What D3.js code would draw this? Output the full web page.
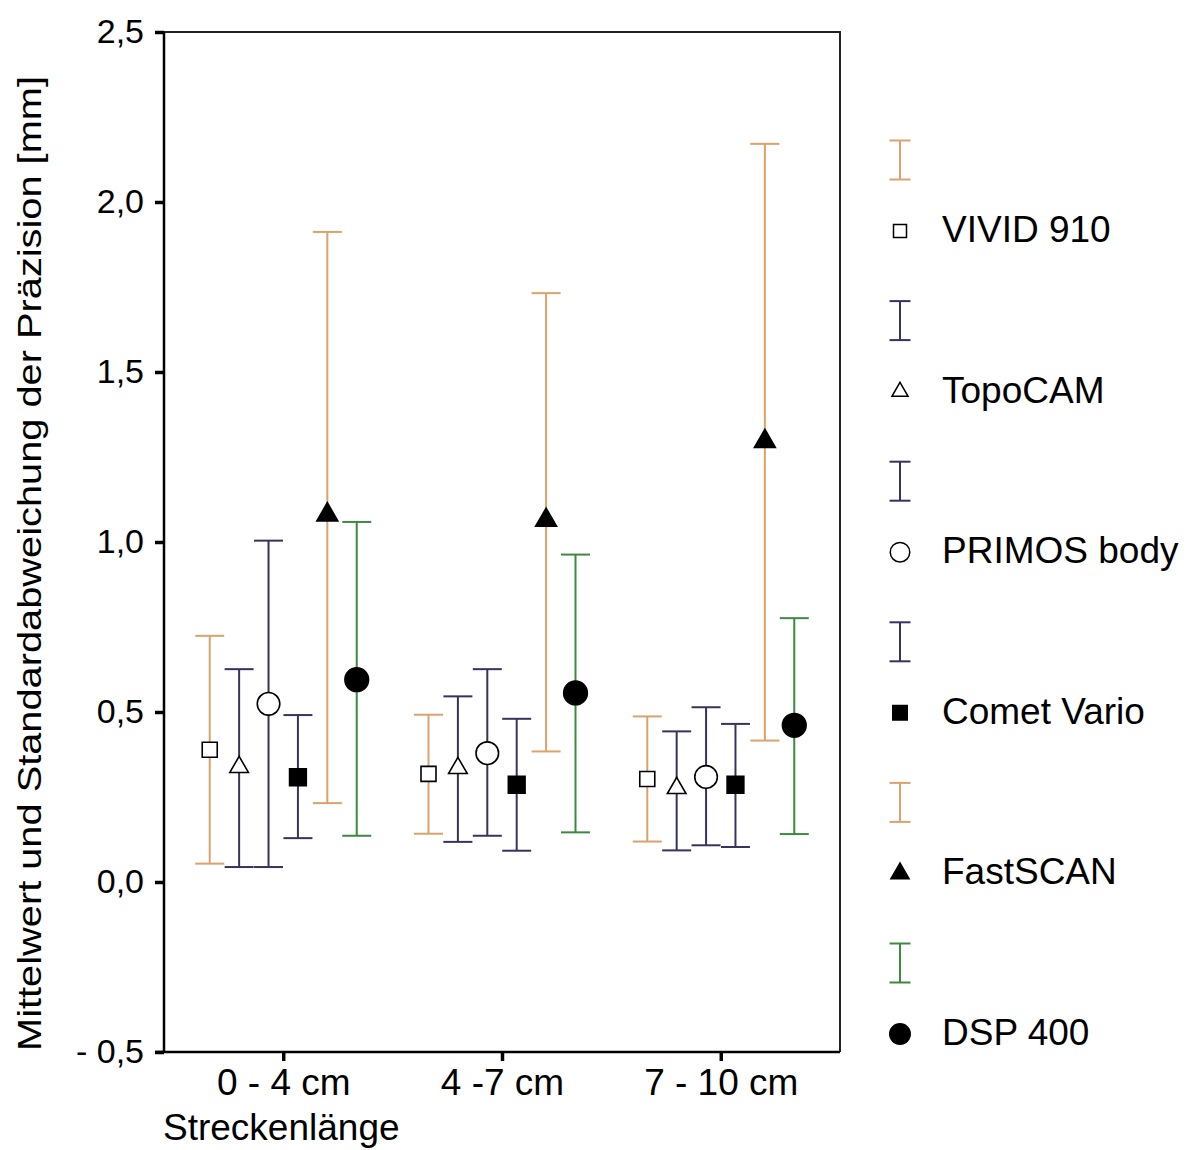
<!DOCTYPE html>
<html>
<head>
<meta charset="utf-8">
<script src="https://cdn.jsdelivr.net/npm/d3@7"></script>
<style>
  html, body { margin: 0; padding: 0; background: #fff; }
  svg { display: block; }
  text { font-family: "Liberation Sans", Arial, sans-serif; fill: #000; }
</style>
</head>
<body>
<svg id="chart" width="1196" height="1150"></svg>
<script>
// ---- Data ----
const categories = ["0 - 4 cm", "4 -7 cm", "7 - 10 cm"];
const seriesNames = ["VIVID 910", "TopoCAM", "PRIMOS body", "Comet Vario", "FastSCAN", "DSP 400"];

const vividMean = [0.389, 0.318, 0.303];
const vividLow  = [0.054, 0.142, 0.119];
const vividHigh = [0.724, 0.492, 0.487];

const topoMean = [0.338, 0.335, 0.276];
const topoLow  = [0.044, 0.118, 0.093];
const topoHigh = [0.626, 0.546, 0.443];

const primosMean = [0.524, 0.379, 0.309];
const primosLow  = [0.044, 0.136, 0.108];
const primosHigh = [1.004, 0.626, 0.514];

const cometMean = [0.308, 0.286, 0.286];
const cometLow  = [0.129, 0.092, 0.103];
const cometHigh = [0.491, 0.480, 0.465];

const fastMean = [1.080, 1.064, 1.296];
const fastLow  = [0.232, 0.384, 0.416];
const fastHigh = [1.912, 1.732, 2.171];

const dspMean = [0.595, 0.556, 0.461];
const dspLow  = [0.136, 0.146, 0.141];
const dspHigh = [1.059, 0.963, 0.776];

const yTickValues = [-0.5, 0, 0.5, 1.0, 1.5, 2.0, 2.5];
const yTickLabels = ["- 0,5", "0,0", "0,5", "1,0", "1,5", "2,0", "2,5"];

const xTitle = "Streckenlänge";
const yTitle = "Mittelwert und Standardabweichung der Präzision [mm]";

// ---- Styles ----
const ORANGE = "#dca26a", NAVY = "#35345f", GREEN = "#3b8a3e";
const barColors = [ORANGE, NAVY, NAVY, NAVY, ORANGE, GREEN];
const markerDefs = [
  { type: d3.symbolSquare,   size: 225, fill: "#fff" },
  { type: d3.symbolTriangle, size: 150, fill: "#fff" },
  { type: d3.symbolCircle,   size: 400, fill: "#fff" },
  { type: d3.symbolSquare,   size: 280, fill: "#000" },
  { type: d3.symbolTriangle, size: 190, fill: "#000" },
  { type: d3.symbolCircle,   size: 440, fill: "#000" }
];

const series = [
  { mean: vividMean,  low: vividLow,  high: vividHigh },
  { mean: topoMean,   low: topoLow,   high: topoHigh },
  { mean: primosMean, low: primosLow, high: primosHigh },
  { mean: cometMean,  low: cometLow,  high: cometHigh },
  { mean: fastMean,   low: fastLow,   high: fastHigh },
  { mean: dspMean,    low: dspLow,    high: dspHigh }
].map((s, i) => ({ ...s, name: seriesNames[i], color: barColors[i], marker: markerDefs[i] }));

// ---- Layout ----
const L = 164, R = 840, T = 32, B = 1052;
const svg = d3.select("#chart");

const y = d3.scaleLinear().domain([-0.5, 2.5]).range([B, T]);
const x = d3.scalePoint().domain(categories).range([L, R]).padding(0.545);
const offset = d3.scalePoint().domain(d3.range(seriesNames.length)).range([-73.5, 73.5]);
const capHalf = 14.5;

// frame (top & right)
svg.append("path")
  .attr("d", `M${L},${T}H${R}V${B}`)
  .attr("fill", "none").attr("stroke", "#222").attr("stroke-width", 2);

// y axis
const yAxis = d3.axisLeft(y).tickValues(yTickValues)
  .tickFormat((d, i) => yTickLabels[i]).tickSize(9).tickPadding(11);
const gy = svg.append("g").attr("transform", `translate(${L},0)`).call(yAxis);
gy.select(".domain").attr("stroke", "#000").attr("stroke-width", 2.5).attr("d", `M0,${T}V${B}`);
gy.selectAll(".tick line").attr("stroke", "#000").attr("stroke-width", 3.5);
gy.selectAll(".tick text").style("font-size", "34px").attr("font-family", "Liberation Sans, Arial, sans-serif").attr("fill", "#000");

// x axis
const xAxis = d3.axisBottom(x).tickSize(9).tickPadding(8);
const gx = svg.append("g").attr("transform", `translate(0,${B})`).call(xAxis);
gx.select(".domain").attr("stroke", "#000").attr("stroke-width", 2.5).attr("d", `M${L - 9},0H${R}`);
gx.selectAll(".tick line").attr("stroke", "#000").attr("stroke-width", 3.5);
gx.selectAll(".tick text").style("font-size", "37px").attr("font-family", "Liberation Sans, Arial, sans-serif")
  .attr("fill", "#000").attr("dy", "0.71em");

// axis titles
svg.append("text").attr("x", 163).attr("y", 1140).style("font-size", "37px").text(xTitle);
svg.append("text")
  .attr("transform", `translate(41,${(75 + B) / 2}) rotate(-90)`)
  .attr("text-anchor", "middle")
  .attr("textLength", 975).attr("lengthAdjust", "spacingAndGlyphs")
  .style("font-family", "'Liberation Sans Narrow', 'Arial Narrow', 'Liberation Sans', sans-serif")
  .style("font-size", "33px")
  .text(yTitle);

// error bars & markers
const plot = svg.append("g");
series.forEach((s, si) => {
  const g = plot.append("g");
  categories.forEach((c, ci) => {
    const cx = x(c) + offset(si);
    const yl = y(s.low[ci]), yh = y(s.high[ci]), ym = y(s.mean[ci]);
    g.append("line").attr("x1", cx).attr("x2", cx).attr("y1", yl).attr("y2", yh)
      .attr("stroke", s.color).attr("stroke-width", 2);
    g.append("line").attr("x1", cx - capHalf).attr("x2", cx + capHalf).attr("y1", yh).attr("y2", yh)
      .attr("stroke", s.color).attr("stroke-width", 2);
    g.append("line").attr("x1", cx - capHalf).attr("x2", cx + capHalf).attr("y1", yl).attr("y2", yl)
      .attr("stroke", s.color).attr("stroke-width", 2);
    g.append("path")
      .attr("d", d3.symbol().type(s.marker.type).size(s.marker.size)())
      .attr("transform", `translate(${cx},${ym})`)
      .attr("fill", s.marker.fill).attr("stroke", "#000").attr("stroke-width", 1.6);
  });
});

// legend
const legX = 900, legTop = 160, legStep = 160.6, legGap = 69;
series.forEach((s, i) => {
  const by = legTop + i * legStep;
  const lg = svg.append("g");
  lg.append("line").attr("x1", legX).attr("x2", legX).attr("y1", by - 19.5).attr("y2", by + 19.5)
    .attr("stroke", s.color).attr("stroke-width", 2);
  [by - 19.5, by + 19.5].forEach(yy => lg.append("line")
    .attr("x1", legX - 10.5).attr("x2", legX + 10.5).attr("y1", yy).attr("y2", yy)
    .attr("stroke", s.color).attr("stroke-width", 2));
  const my = by + legGap;
  lg.append("path")
    .attr("d", d3.symbol().type(s.marker.type).size(s.marker.size * 0.75)())
    .attr("transform", `translate(${legX},${my + 2})`)
    .attr("fill", s.marker.fill).attr("stroke", "#000").attr("stroke-width", 1.5);
  lg.append("text").attr("x", 942).attr("y", my + 13).style("font-size", "37px").text(s.name);
});
</script>
</body>
</html>
